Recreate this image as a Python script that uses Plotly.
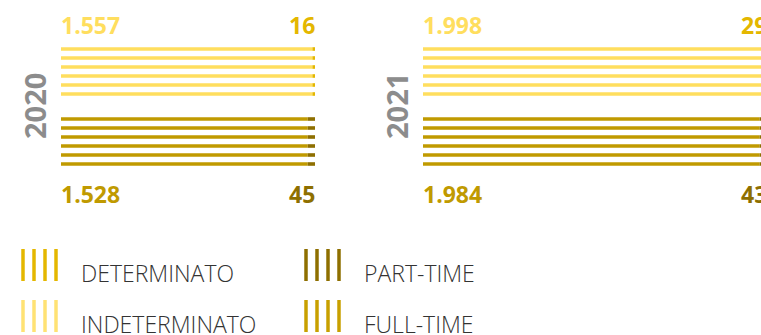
import plotly.graph_objects as go

# ---- data -------------------------------------------------------------
years = ["2020", "2021"]
indeterminato = [1557, 1998]
determinato = [16, 29]
full_time = [1528, 1984]
part_time = [45, 43]

legend_labels = ["DETERMINATO", "INDETERMINATO", "PART-TIME", "FULL-TIME"]

# ---- style ------------------------------------------------------------
C_IND = "#FFDE5E"
C_DET = "#E4B700"
C_FT = "#C09A00"
C_PT = "#8E6F00"
C_YEAR = "#8C8C8C"
C_TEXT = "#333333"
NUM_FONT = "Open Sans"
W, H = 761, 335

# horizontal pixel span of a full line in each year panel
panel_spans = [(61, 315), (423, 767)]
# vertical layout of the striped lines
N_LINES = 6
ROW_START = 49
ROW_STEP = 9
GROUP_GAP = 25
THICK = 3.6

top_rows = [ROW_START + i * ROW_STEP for i in range(N_LINES)]
bottom_start = top_rows[-1] + GROUP_GAP
bottom_rows = [bottom_start + i * ROW_STEP for i in range(N_LINES)]

fig = go.Figure()
annotations = []
layout_axes = {}


def fmt(v):
    return f"{v:,}".replace(",", ".")


for k, year in enumerate(years):
    x0, x1 = panel_spans[k]
    total = indeterminato[k] + determinato[k]
    vis_x1 = min(x1, W)
    scale = (x1 - x0) / total
    xname = "x" if k == 0 else f"x{k + 1}"
    yname = "y" if k == 0 else f"y{k + 1}"
    xkey = "xaxis" if k == 0 else f"xaxis{k + 1}"
    ykey = "yaxis" if k == 0 else f"yaxis{k + 1}"
    layout_axes[xkey] = dict(domain=[x0 / W, vis_x1 / W], range=[0, (vis_x1 - x0) / scale],
                             visible=False, fixedrange=True, anchor=yname)
    layout_axes[ykey] = dict(domain=[0, 1], range=[H, 0], visible=False, fixedrange=True,
                             anchor=xname)

    groups = [
        (top_rows, indeterminato[k], determinato[k], C_IND, C_DET),
        (bottom_rows, full_time[k], part_time[k], C_FT, C_PT),
    ]
    for rows, main_v, end_v, c_main, c_end in groups:
        fig.add_trace(go.Bar(orientation="h", y=rows, x=[main_v] * len(rows), base=0,
                             width=THICK, marker=dict(color=c_main, line=dict(width=0)),
                             xaxis=xname, yaxis=yname, hoverinfo="skip", showlegend=False))
        fig.add_trace(go.Bar(orientation="h", y=rows, x=[end_v] * len(rows),
                             base=[main_v] * len(rows), width=THICK,
                             marker=dict(color=c_end, line=dict(width=0)),
                             xaxis=xname, yaxis=yname, hoverinfo="skip", showlegend=False))

    def px(v):
        return (x0 + v * scale) / W

    label_specs = [
        (0, indeterminato[k], "left", 25, C_IND),
        (total, determinato[k], "right", 25, C_DET),
        (0, full_time[k], "left", 194, C_FT),
        (total, part_time[k], "right", 194, C_PT),
    ]
    for pos, val, anchor, ypx, col in label_specs:
        annotations.append(dict(x=px(pos), y=1 - ypx / H, xref="paper", yref="paper",
                                text=fmt(val), showarrow=False, xanchor=anchor,
                                yanchor="middle", xshift=-2 if anchor == "left" else 2,
                                font=dict(family=NUM_FONT, size=23, color=col, weight=700)))

    annotations.append(dict(x=(x0 - 26) / W, y=1 - 106 / H, xref="paper", yref="paper",
                            text=year, textangle=-90, showarrow=False,
                            xanchor="center", yanchor="middle",
                            font=dict(family=NUM_FONT, size=29, color=C_YEAR, weight=700)))

# ---- legend -----------------------------------------------------------
shapes = []
legend_items = [
    (legend_labels[0], C_DET, 23, 249),
    (legend_labels[1], "#FFE273", 23, 300),
    (legend_labels[2], C_PT, 306, 249),
    (legend_labels[3], "#C8A000", 306, 300),
]
for label, col, lx, ly in legend_items:
    for j in range(4):
        xx = (lx + j * 11) / W
        shapes.append(dict(type="line", xref="paper", yref="paper", x0=xx, x1=xx,
                           y0=1 - ly / H, y1=1 - (ly + 32) / H,
                           line=dict(color=col, width=3.5)))
    annotations.append(dict(x=(lx + 56) / W, y=1 - (ly + 24) / H, xref="paper", yref="paper",
                            text=label, showarrow=False, xanchor="left", yanchor="middle",
                            font=dict(family=NUM_FONT, size=23, color=C_TEXT, weight=300)))

fig.update_layout(
    width=W, height=H,
    margin=dict(l=0, r=0, t=0, b=0),
    paper_bgcolor="white", plot_bgcolor="rgba(0,0,0,0)",
    barmode="overlay",
    showlegend=False,
    annotations=annotations,
    shapes=shapes,
    **layout_axes,
)

fig.write_html("out.html", config={"displayModeBar": False})
